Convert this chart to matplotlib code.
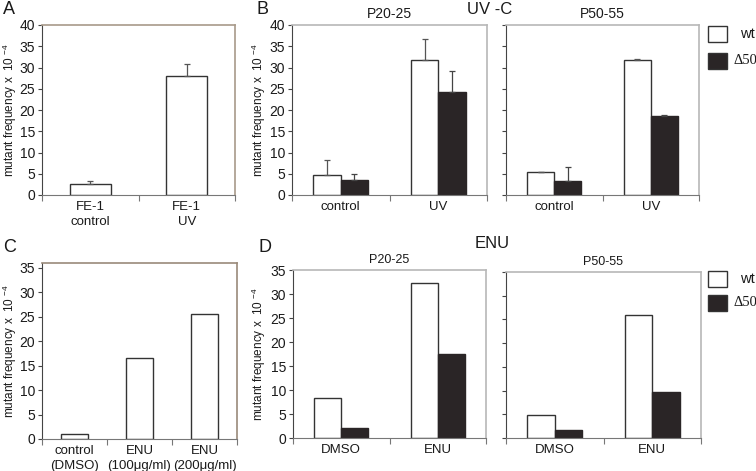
import numpy as np
import matplotlib
matplotlib.use("Agg")
import matplotlib.pyplot as plt
from matplotlib.patches import Rectangle

plt.rcParams['font.family'] = ['Liberation Sans', 'DejaVu Sans']
plt.rcParams['mathtext.fontset'] = 'custom'
plt.rcParams['mathtext.rm'] = 'Liberation Sans'
plt.rcParams['mathtext.it'] = 'Liberation Sans'

# ---- data ----
a_labels = ["FE-1\ncontrol", "FE-1\nUV"]
a_vals = [2.6, 28.0]
a_err = [0.8, 2.9]

uv_labels = ["control", "UV"]
uv_p20_wt = [4.8, 31.8]
uv_p20_wt_err = [3.4, 5.0]
uv_p20_d50 = [3.5, 24.3]
uv_p20_d50_err = [1.4, 4.9]
uv_p50_wt = [5.3, 31.7]
uv_p50_wt_err = [0.2, 0.2]
uv_p50_d50 = [3.2, 18.6]
uv_p50_d50_err = [3.4, 0.3]

c_labels = ["control\n(DMSO)", "ENU\n(100\u03bcg/ml)", "ENU\n(200\u03bcg/ml)"]
c_vals = [1.1, 16.6, 25.5]

enu_labels = ["DMSO", "ENU"]
enu_p20_wt = [8.3, 32.2]
enu_p20_d50 = [2.1, 17.6]
enu_p50_wt = [4.8, 26.0]
enu_p50_d50 = [1.6, 9.6]

W, H = 756, 471
fig = plt.figure(figsize=(W / 100, H / 100), dpi=100)

YLAB = "mutant frequency x  10 $^{-4}$"
TEXTC = "#1a1a1a"


def make_ax(l, r, t, b, frame):
    ax = fig.add_axes([l / W, (H - b) / H, (r - l) / W, (b - t) / H])
    for s in ("top", "right"):
        ax.spines[s].set_color(frame)
        ax.spines[s].set_linewidth(1.2)
    ax.spines["left"].set_color("#444444")
    ax.spines["bottom"].set_color("#777777")
    ax.tick_params(axis="y", direction="out", length=3, width=0.8, color="#444444",
                   labelsize=10, labelcolor=TEXTC, pad=2)
    return ax


def set_ylab(ax, x_px, t, b):
    # x_px is the right edge of the rotated label
    ax.set_ylabel(YLAB, fontsize=8.5, color=TEXTC)
    ax.yaxis.set_label_coords(x_px / W, 1 - (t + b) / 2 / H, transform=fig.transFigure)


def cat_axis(ax, labels):
    n = len(labels)
    ax.set_xlim(-0.5, n - 0.5)
    ax.set_xticks(range(n))
    ax.set_xticklabels(labels, fontsize=9.5, color=TEXTC, linespacing=1.35)
    ax.tick_params(axis="x", which="major", length=0, pad=4)
    ax.set_xticks(np.arange(-0.5, n, 1.0), minor=True)
    ax.tick_params(axis="x", which="minor", length=4, width=0.8, color="#777777")


def pair_bars(ax, wt, d50, wt_err=None, d50_err=None, w=0.28):
    x = np.arange(len(wt))
    ax.bar(x - w / 2, wt, w, color="white", edgecolor="#333333", linewidth=1.0, zorder=2)
    ax.bar(x + w / 2, d50, w, color="#2a2526", edgecolor="#2a2526", linewidth=1.0, zorder=2)
    if wt_err is not None:
        ax.errorbar(x - w / 2, wt, yerr=[np.zeros(len(wt)), wt_err], fmt="none",
                    ecolor="#555555", elinewidth=0.9, capsize=2.5, capthick=0.9, zorder=3)
        ax.errorbar(x + w / 2, d50, yerr=[np.zeros(len(d50)), d50_err], fmt="none",
                    ecolor="#444444", elinewidth=0.9, capsize=2.5, capthick=0.9, zorder=3)


# A
ax = make_ax(42, 235, 25, 195, "#a89a8a")
x = np.arange(len(a_vals))
ax.bar(x, a_vals, 0.42, color="white", edgecolor="#333333", linewidth=1.0, zorder=2)
ax.errorbar(x, a_vals, yerr=[np.zeros(len(a_vals)), a_err], fmt="none",
            ecolor="#555555", elinewidth=0.9, capsize=2.5, capthick=0.9, zorder=3)
cat_axis(ax, a_labels)
ax.set_ylim(0, 40)
ax.set_yticks(range(0, 41, 5))
set_ylab(ax, 19, 25, 195)

# B left
ax = make_ax(292, 487, 25, 195, "#b8b8b8")
pair_bars(ax, uv_p20_wt, uv_p20_d50, uv_p20_wt_err, uv_p20_d50_err)
cat_axis(ax, uv_labels)
ax.set_ylim(0, 40)
ax.set_yticks(range(0, 41, 5))
set_ylab(ax, 268, 25, 195)
ax.set_title("P20-25", fontsize=10, color=TEXTC, pad=5)

# B right
ax = make_ax(506, 699, 25, 195, "#b8b8b8")
pair_bars(ax, uv_p50_wt, uv_p50_d50, uv_p50_wt_err, uv_p50_d50_err)
cat_axis(ax, uv_labels)
ax.set_ylim(0, 40)
ax.set_yticks(range(0, 41, 5))
ax.set_yticklabels([])
ax.set_title("P50-55", fontsize=10, color=TEXTC, pad=5)

# C
ax = make_ax(42, 237, 263, 439, "#9a8a7a")
x = np.arange(len(c_vals))
ax.bar(x, c_vals, 0.41, color="white", edgecolor="#333333", linewidth=1.0, zorder=2)
cat_axis(ax, c_labels)
ax.set_ylim(0, 36)
ax.set_yticks(range(0, 36, 5))
set_ylab(ax, 19, 263, 439)

# D left
ax = make_ax(293, 486, 270, 438, "#b8b8b8")
pair_bars(ax, enu_p20_wt, enu_p20_d50)
cat_axis(ax, enu_labels)
ax.set_ylim(0, 35)
ax.set_yticks(range(0, 36, 5))
set_ylab(ax, 268, 270, 438)
ax.set_title("P20-25", fontsize=9, color=TEXTC, pad=5)

# D right
ax = make_ax(506, 701, 272, 438, "#b8b8b8")
pair_bars(ax, enu_p50_wt, enu_p50_d50)
cat_axis(ax, enu_labels)
ax.set_ylim(0, 35)
ax.set_yticks(range(0, 36, 5))
ax.set_yticklabels([])
ax.set_title("P50-55", fontsize=9, color=TEXTC, pad=5)


# legends
def legend_box(y_top_wt, y_top_d50):
    for yt, fc in ((y_top_wt, "white"), (y_top_d50, "#2a2526")):
        fig.patches.append(Rectangle((708 / W, (H - yt - 16) / H), 19 / W, 16 / H,
                                     transform=fig.transFigure, facecolor=fc,
                                     edgecolor="#333333", linewidth=1.0))
    fig.text(740 / W, (H - y_top_wt - 8) / H, "wt", fontsize=10.5, color=TEXTC,
             va="center", ha="left")
    fig.text(733 / W, (H - y_top_d50 - 8) / H, "\u039450", fontsize=10.5, color=TEXTC,
             va="center", ha="left", family=["Liberation Serif", "DejaVu Serif"])


legend_box(26, 53)
legend_box(271, 295)

# panel letters and group titles
fig.text(3 / W, 1 - 10 / H, "A", fontsize=13, va="center", ha="left", color=TEXTC)
fig.text(256 / W, 1 - 10 / H, "B", fontsize=13, va="center", ha="left", color=TEXTC)
fig.text(3 / W, 1 - 247 / H, "C", fontsize=13, va="center", ha="left", color=TEXTC)
fig.text(258 / W, 1 - 247 / H, "D", fontsize=13, va="center", ha="left", color=TEXTC)
fig.text(490 / W, 1 - 10 / H, "UV -C", fontsize=12, va="center", ha="center", color=TEXTC)
fig.text(492 / W, 1 - 244 / H, "ENU", fontsize=12, va="center", ha="center", color=TEXTC)

fig.savefig("out.png", dpi=100)
